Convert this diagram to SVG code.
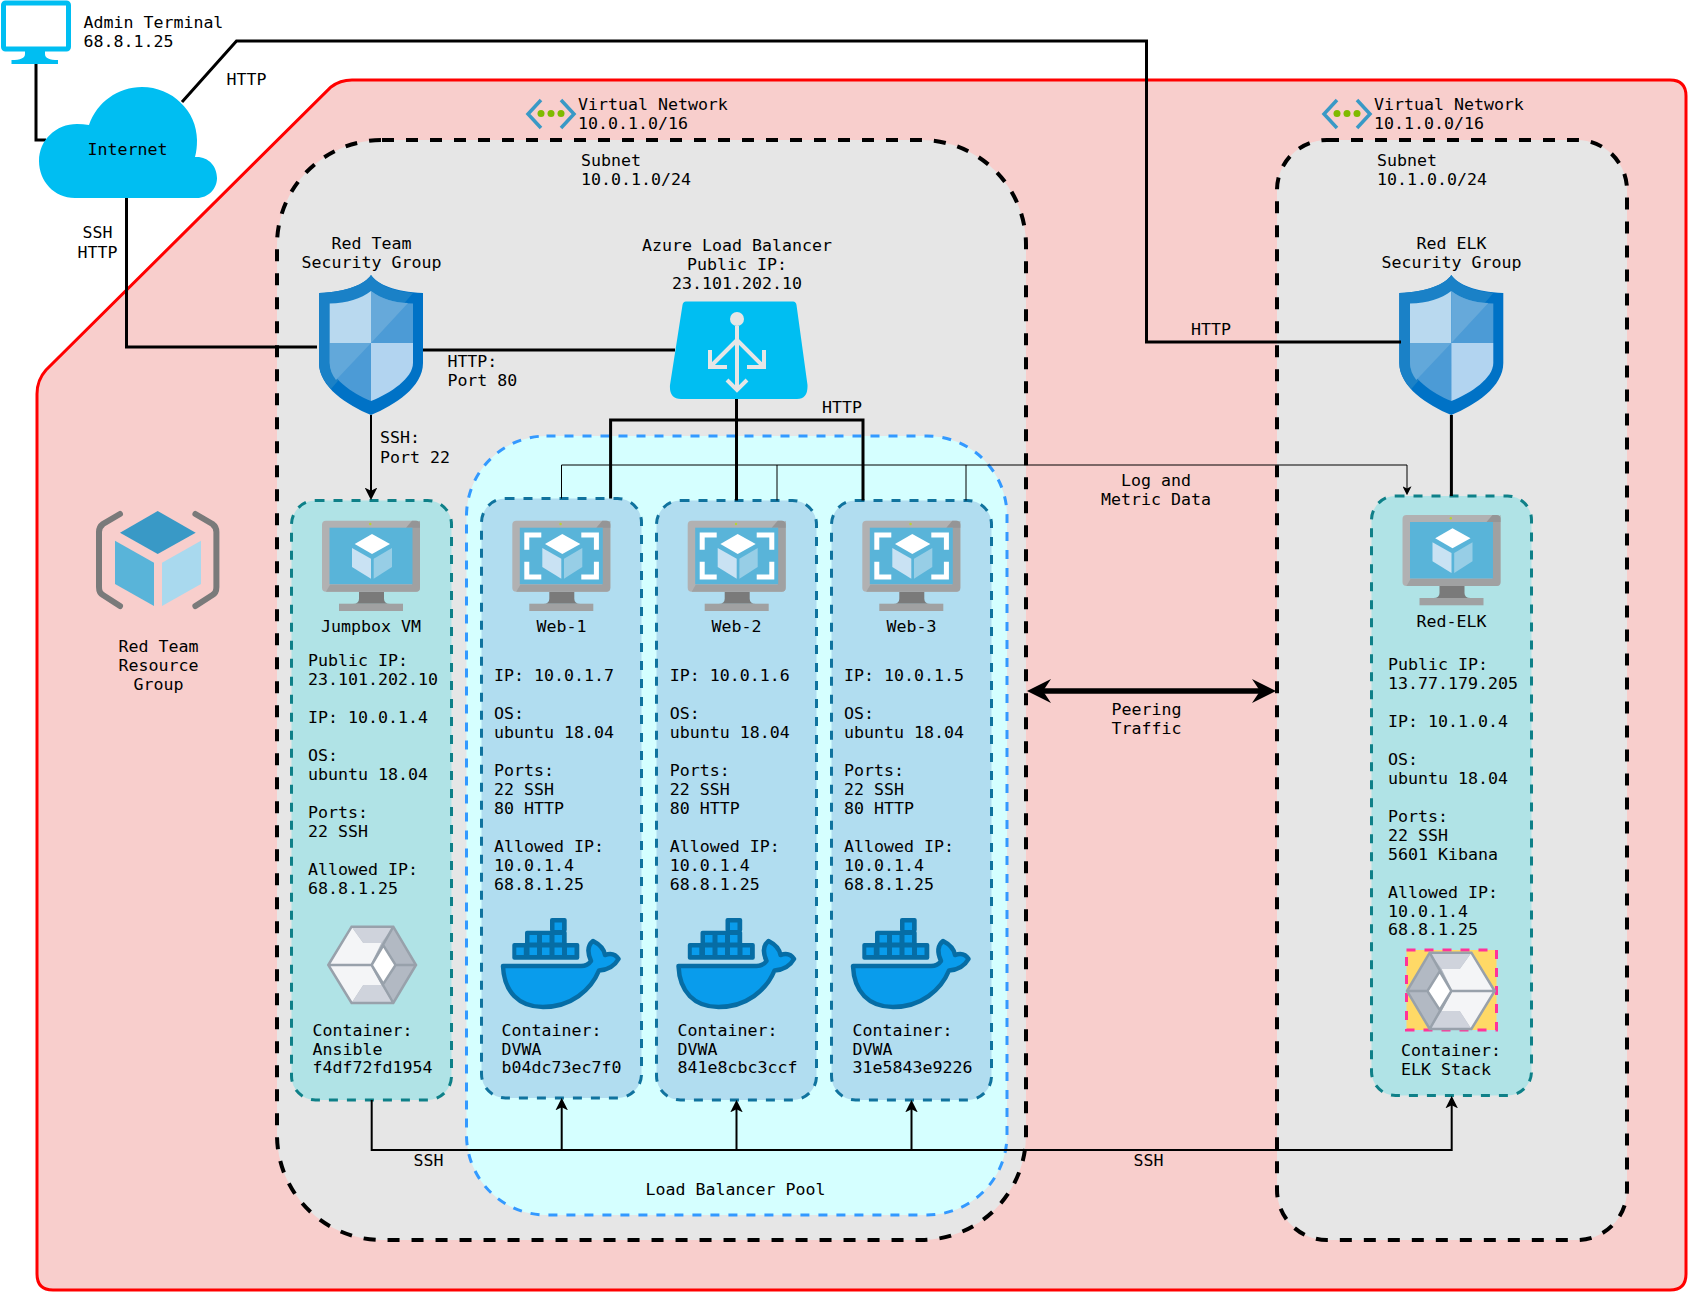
<svg xmlns="http://www.w3.org/2000/svg" width="1688" height="1292" viewBox="0 0 1688 1292">
<style>
text{font-family:"DejaVu Sans Mono","Liberation Mono",monospace;font-size:16.6px;fill:#000}
.m{text-anchor:middle}
.subnet{fill:#e6e6e6;stroke:#000;stroke-width:4;stroke-dasharray:12 12}
.teal{fill:#b0e3e6;stroke:#0e8088;stroke-width:3;stroke-dasharray:9 9}
.blue{fill:#b1ddf0;stroke:#10739e;stroke-width:3;stroke-dasharray:9 9}
.c{fill:none;stroke:#000;stroke-width:3}
.c2{fill:none;stroke:#000;stroke-width:2}
.c1{fill:none;stroke:#000;stroke-width:1}
.lb{fill:none;stroke:#e6e6e6;stroke-width:4}
.chev{fill:none;stroke:#3999c6;stroke-width:3.5}
.hexl{fill:none;stroke:#98a1ab;stroke-width:2.5}
</style>
<defs>
<marker id="arrow" markerUnits="userSpaceOnUse" markerWidth="12.500" markerHeight="12.500" viewBox="0 0 12 12" refX="9" refY="6" orient="auto"><path d="M0 0L12 6L0 12L3 6Z" fill="#000"/></marker>
<marker id="arrowS" markerUnits="userSpaceOnUse" markerWidth="9" markerHeight="9" viewBox="0 0 12 12" refX="9" refY="6" orient="auto"><path d="M0 0L12 6L0 12L3 6Z" fill="#000"/></marker>
<marker id="arrowL" markerUnits="userSpaceOnUse" markerWidth="24" markerHeight="24" viewBox="0 0 12 12" refX="5" refY="6" orient="auto-start-reverse"><path d="M0 0L12 6L0 12L4 6Z" fill="#000"/></marker>
<g id="shield">
<path d="M52 0C46 9 28 17 0 18V88C0 112 28 130 52 140C76 130 104 112 104 88V18C76 17 58 9 52 0Z" fill="#0072c6"/>
<path d="M52 0C46 9 28 17 0 18V88C0 98 5 106 12 114L94 18C72 16 58 9 52 0Z" fill="#1a81c7"/>
<path d="M52 16C42 24 28 28 10.7 28.5V68H52Z" fill="#b9d9ef"/>
<path d="M52 16C62 24 76 28 94 28.5V68H52Z" fill="#4c9bd6"/>
<path d="M52 16C62 24 76 28 89 28L52 68Z" fill="#66a9da"/>
<path d="M10.7 68V88C10.7 102 32 118 52 126V68Z" fill="#4c9bd6"/>
<path d="M10.7 68V88C10.7 94 13 100 17 105L52 68Z" fill="#62a8da"/>
<path d="M52 68H94V88C94 103 72 118 52 126Z" fill="#b2d4f0"/>
</g>
<g id="vm">
<path d="M37 71H62V78Q62 83 68 83H31Q37 83 37 78Z" fill="#7a7a7a"/>
<rect x="17" y="83" width="64" height="7.3" fill="#a0a1a2"/>
<rect x="0" y="0" width="98" height="71" rx="4" fill="#b1b1b2"/>
<path d="M90 7L98 0V67Q98 71 94 71H4L8 64H90Z" fill="#a0a1a2"/>
<path d="M84 7L90 0H94Q98 0 98 4V7Z" fill="#959596"/>
<rect x="7.5" y="7" width="83" height="56.5" fill="#59b4d9"/>
<circle cx="48.3" cy="3.3" r="1.2" fill="#b8d432"/>
</g>
<g id="cube">
<path d="M50 13.3L68 23.3L50 33.3L32.7 23.3Z" fill="#fff"/>
<path d="M30 27.3L49 38V58L30 46.3Z" fill="#c9e2f3"/>
<path d="M70 27.3V46.3L51.7 58V38Z" fill="#97cee6"/>
</g>
<g id="brackets" fill="#fff">
<path d="M12 11.7H29V16.7H17V29H12Z"/>
<path d="M86.6 11.7H69V16.7H81.6V29H86.6Z"/>
<path d="M12 58.7H29V53.7H17V41H12Z"/>
<path d="M86.6 58.7H69V53.7H81.6V41H86.6Z"/>
</g>
<g id="docker">
<g fill="#066da5"><rect x="11.3" y="25" width="67" height="16.7" rx="2"/><rect x="24" y="12.7" width="41.7" height="14" rx="2"/><rect x="49" y="0" width="16.7" height="14" rx="2"/></g>
<g fill="#099cec"><rect x="15.3" y="29.5" width="7.5" height="7.5"/><rect x="28.5" y="29.5" width="7.5" height="7.5"/><rect x="41" y="29.5" width="7.5" height="7.5"/><rect x="53.5" y="29.5" width="7.5" height="7.5"/><rect x="66" y="29.5" width="7.5" height="7.5"/><rect x="28.5" y="17" width="7.5" height="7.5"/><rect x="41" y="17" width="7.5" height="7.5"/><rect x="53.5" y="17" width="7.5" height="7.5"/><rect x="53.5" y="4.5" width="7.5" height="7.5"/></g>
<path d="M2 48H80C85 48 88 46 90 43C86 34 87 27 92 23C98 26 103 31 104 37C110 35 114.500 36 117.500 41C113 49 106 52 98 52.500C90 72 70 89 42 89C18 89 3 74 2 48Z" fill="#099cec" stroke="#066da5" stroke-width="4.500" stroke-linejoin="round"/>
</g>
<g id="hex">
<path d="M0 39L23.300 .7H65L87.700 39L65 77H23.300Z" fill="#b2b9c3"/>
<path d="M0 39L23.300 .7L35 17H53L42.300 39L53 59H35L23.300 77Z" fill="#f4f5f7"/>
<path d="M23.300 .7H65L53 17H35Z" fill="#cfd3dc"/>
<path d="M23.300 77H65L53 59H35Z" fill="#cfd3dc"/>
<path d="M55 19.300L67.300 39L55 58L43.300 39Z" fill="#fff"/>
<path class="hexl" d="M0 39L23.300 .7H65L87.700 39L65 77H23.300ZM0 39H43.300M67.300 39H87.700M65 .7L43.300 39L65 77M43.300 39L55 19.300L67.300 39L55 58Z"/>
</g>
<g id="vnet">
<path class="chev" d="M15 1L2 15L15 29M35 1L48 15L35 29"/>
<g fill="#7fba00"><circle cx="15" cy="14.500" r="3.500"/><circle cx="25" cy="14.500" r="3.500"/><circle cx="35" cy="14.500" r="3.500"/></g>
</g>
</defs>
<rect width="1688" height="1292" fill="#fff"/>

<g id="resource-group">
<path d="M352 80H1670Q1686 80 1686 96V1274Q1686 1290 1670 1290H53Q37 1290 37 1274V394Q37 380 46 370L331 87Q340 80 352 80Z" fill="#f8cecc" stroke="#f00" stroke-width="3"/>
<path d="M120 514L103 524Q99 527 99 532V587Q99 593 103 595L120 606M195.400 514L212.400 524Q216.400 527 216.400 532V587Q216.400 593 212.400 595L195.400 606" fill="none" stroke="#7a7a7a" stroke-width="6" stroke-linecap="round"/>
<path d="M157.700 511L195.700 532.700L157.700 554L120 532.700Z" fill="#3999c6"/>
<path d="M115 540.700L154 562.700V606L115 584Z" fill="#59b4d9"/>
<path d="M162 562.700L201 540.700V584L162 606Z" fill="#a9d9ee"/>
<text class="m" x="158.500" y="652">Red Team</text>
<text class="m" x="158.500" y="671">Resource</text>
<text class="m" x="158.500" y="690">Group</text>
</g>

<g id="subnet-1">
<rect class="subnet" x="277" y="140" width="749" height="1100" rx="105"/>
<use href="#vnet" x="526" y="99"/>
<text x="578" y="110">Virtual Network</text>
<text x="578" y="129">10.0.1.0/16</text>
<text x="581" y="166">Subnet</text>
<text x="581" y="185">10.0.1.0/24</text>
</g>

<g id="subnet-2">
<rect class="subnet" x="1277" y="140" width="350" height="1100" rx="50"/>
<use href="#vnet" x="1322" y="99"/>
<text x="1374" y="110">Virtual Network</text>
<text x="1374" y="129">10.1.0.0/16</text>
<text x="1377" y="166">Subnet</text>
<text x="1377" y="185">10.1.0.0/24</text>
</g>

<g id="load-balancer-pool">
<rect x="466.500" y="436" width="540.500" height="779" rx="80" fill="#d5ffff" stroke="#3399ff" stroke-width="3" stroke-dasharray="9 9"/>
<text class="m" x="735.500" y="1195">Load Balancer Pool</text>
</g>

<g id="admin-terminal">
<rect x="3.500" y="3" width="65" height="46" rx="2" fill="#fff" stroke="#00bef2" stroke-width="5"/>
<path d="M25 50H45V54Q45 60 58 60V64H11.500V60Q25 60 25 54Z" fill="#00bef2"/>
<text x="83.500" y="28">Admin Terminal</text>
<text x="83.500" y="47">68.8.1.25</text>
</g>

<g id="red-team-security-group">
<use href="#shield" x="319" y="275"/>
<text class="m" x="371.500" y="249">Red Team</text>
<text class="m" x="371.500" y="268">Security Group</text>
</g>

<g id="azure-load-balancer">
<path d="M686 301.500H793Q796 301.500 796.500 305L807.500 385Q808 399 797 399H681Q669 399 670 385L682.500 305Q683 301.500 686 301.500Z" fill="#00bef2"/>
<circle cx="737" cy="319" r="7" fill="#e6e6e6"/>
<path class="lb" d="M737 326V390M737 340L711 366M737 340L763 366M710 350V367H727M764 350V367H747M727 380L737 390L747 380"/>
<text class="m" x="737" y="251">Azure Load Balancer</text>
<text class="m" x="737" y="270">Public IP:</text>
<text class="m" x="737" y="289">23.101.202.10</text>
</g>

<g id="red-elk-security-group">
<use href="#shield" x="1399.300" y="275"/>
<text class="m" x="1451.500" y="249">Red ELK</text>
<text class="m" x="1451.500" y="268">Security Group</text>
</g>

<g id="jumpbox">
<rect class="teal" x="291.500" y="500.500" width="160" height="599.500" rx="24"/>
<use href="#vm" x="322" y="520.700"/><use href="#cube" x="322" y="520.700"/>
<text class="m" x="371" y="632">Jumpbox VM</text>
<text x="308" y="666">Public IP:</text>
<text x="308" y="685">23.101.202.10</text>
<text x="308" y="723">IP: 10.0.1.4</text>
<text x="308" y="761">OS:</text>
<text x="308" y="780">ubuntu 18.04</text>
<text x="308" y="818">Ports:</text>
<text x="308" y="837">22 SSH</text>
<text x="308" y="875">Allowed IP:</text>
<text x="308" y="894">68.8.1.25</text>
<use href="#hex" x="328.300" y="926"/>
<text x="312.500" y="1035.500">Container:</text>
<text x="312.500" y="1054.500">Ansible</text>
<text x="312.500" y="1073">f4df72fd1954</text>
</g>

<g id="web-1">
<rect class="blue" x="481.500" y="498.500" width="160" height="599.500" rx="24"/>
<use href="#vm" x="512.300" y="520.700"/><use href="#brackets" x="512.300" y="520.700"/><use href="#cube" x="512.300" y="520.700"/>
<text class="m" x="561.500" y="632">Web-1</text>
<text x="494" y="680.500">IP: 10.0.1.7</text>
<text x="494" y="718.500">OS:</text>
<text x="494" y="737.500">ubuntu 18.04</text>
<text x="494" y="775.500">Ports:</text>
<text x="494" y="794.500">22 SSH</text>
<text x="494" y="813.500">80 HTTP</text>
<text x="494" y="851.500">Allowed IP:</text>
<text x="494" y="870.500">10.0.1.4</text>
<text x="494" y="889.500">68.8.1.25</text>
<use href="#docker" x="501" y="918"/>
<text x="501.500" y="1035.500">Container:</text>
<text x="501.500" y="1054.500">DVWA</text>
<text x="501.500" y="1073">b04dc73ec7f0</text>
</g>

<g id="web-2">
<rect class="blue" x="656.500" y="500.500" width="160" height="599.500" rx="24"/>
<use href="#vm" x="687.700" y="520.700"/><use href="#brackets" x="687.700" y="520.700"/><use href="#cube" x="687.700" y="520.700"/>
<text class="m" x="736.500" y="632">Web-2</text>
<text x="669.800" y="680.500">IP: 10.0.1.6</text>
<text x="669.800" y="718.500">OS:</text>
<text x="669.800" y="737.500">ubuntu 18.04</text>
<text x="669.800" y="775.500">Ports:</text>
<text x="669.800" y="794.500">22 SSH</text>
<text x="669.800" y="813.500">80 HTTP</text>
<text x="669.800" y="851.500">Allowed IP:</text>
<text x="669.800" y="870.500">10.0.1.4</text>
<text x="669.800" y="889.500">68.8.1.25</text>
<use href="#docker" x="676.500" y="918"/>
<text x="677.500" y="1035.500">Container:</text>
<text x="677.500" y="1054.500">DVWA</text>
<text x="677.500" y="1073">841e8cbc3ccf</text>
</g>

<g id="web-3">
<rect class="blue" x="831.500" y="500.500" width="160" height="599.500" rx="24"/>
<use href="#vm" x="862.300" y="520.700"/><use href="#brackets" x="862.300" y="520.700"/><use href="#cube" x="862.300" y="520.700"/>
<text class="m" x="911.500" y="632">Web-3</text>
<text x="844" y="680.500">IP: 10.0.1.5</text>
<text x="844" y="718.500">OS:</text>
<text x="844" y="737.500">ubuntu 18.04</text>
<text x="844" y="775.500">Ports:</text>
<text x="844" y="794.500">22 SSH</text>
<text x="844" y="813.500">80 HTTP</text>
<text x="844" y="851.500">Allowed IP:</text>
<text x="844" y="870.500">10.0.1.4</text>
<text x="844" y="889.500">68.8.1.25</text>
<use href="#docker" x="851" y="918"/>
<text x="852.600" y="1035.500">Container:</text>
<text x="852.600" y="1054.500">DVWA</text>
<text x="852.600" y="1073">31e5843e9226</text>
</g>

<g id="red-elk">
<rect class="teal" x="1371.500" y="496" width="160" height="599.500" rx="24"/>
<use href="#vm" x="1402.500" y="515"/><use href="#cube" x="1402.500" y="515"/>
<text class="m" x="1451.500" y="627">Red-ELK</text>
<text x="1388" y="669.500">Public IP:</text>
<text x="1388" y="688.500">13.77.179.205</text>
<text x="1388" y="726.500">IP: 10.1.0.4</text>
<text x="1388" y="764.500">OS:</text>
<text x="1388" y="783.500">ubuntu 18.04</text>
<text x="1388" y="821.500">Ports:</text>
<text x="1388" y="840.500">22 SSH</text>
<text x="1388" y="859.500">5601 Kibana</text>
<text x="1388" y="897.500">Allowed IP:</text>
<text x="1388" y="916.500">10.0.1.4</text>
<text x="1388" y="935">68.8.1.25</text>
<rect x="1406.500" y="950" width="90" height="80" fill="#ffd966" stroke="#ff3399" stroke-width="3" stroke-dasharray="9 9"/>
<use href="#hex" transform="translate(1494.700 952) scale(-1 1)"/>
<text x="1401" y="1055.500">Container:</text>
<text x="1401" y="1074.500">ELK Stack</text>
</g>

<g id="connectors">
<path class="c" d="M36 64V140H46"/>
<path class="c" d="M126.500 198V347H317"/>
<path class="c" d="M182 102L236.500 41H1146.500V342H1401"/>
<path class="c" d="M423 350H675"/>
<path class="c2" d="M371 415V497" marker-end="url(#arrow)"/>
<path class="c" d="M736.500 399V500.500"/>
<path class="c" d="M610.600 498.500V420H863V500.500"/>
<path class="c1" d="M561.500 498.500V465H1407V493" marker-end="url(#arrowS)"/>
<path class="c1" d="M777 465V500.500M966 465V500.500"/>
<path class="c2" d="M371.700 1100V1150H1451.700V1099" marker-end="url(#arrow)"/>
<path class="c2" d="M561.700 1150V1101" marker-end="url(#arrow)"/>
<path class="c2" d="M736.500 1150V1103" marker-end="url(#arrow)"/>
<path class="c2" d="M911.500 1150V1103" marker-end="url(#arrow)"/>
<path class="c" d="M1451.400 415V496"/>
<path d="M1041 691H1262" fill="none" stroke="#000" stroke-width="5.500" marker-start="url(#arrowL)" marker-end="url(#arrowL)"/>
</g>

<g id="internet">
<path d="M75 198C54 198 39 181 39 161C39 140 56 124 77 124Q83 124 89 125C97 102 118 87 142 87C172 87 197 111 197 140Q197 150 195 157C208 156 217 166 217 178C217 189 208 198 197 198Z" fill="#00bef2"/>
<text class="m" x="127.500" y="155">Internet</text>
</g>

<g id="labels">
<text x="226.500" y="85">HTTP</text>
<text class="m" x="97.500" y="238">SSH</text>
<text class="m" x="97.500" y="257.500">HTTP</text>
<text x="447.400" y="367">HTTP:</text>
<text x="447.400" y="386">Port 80</text>
<text x="380" y="443">SSH:</text>
<text x="380" y="463">Port 22</text>
<text x="822" y="413">HTTP</text>
<text x="1191" y="335">HTTP</text>
<text class="m" x="1156" y="486">Log and</text>
<text class="m" x="1156" y="505">Metric Data</text>
<text class="m" x="1146.500" y="715">Peering</text>
<text class="m" x="1146.500" y="733.500">Traffic</text>
<text class="m" x="428.500" y="1166">SSH</text>
<text class="m" x="1148.500" y="1166">SSH</text>
</g>
</svg>
